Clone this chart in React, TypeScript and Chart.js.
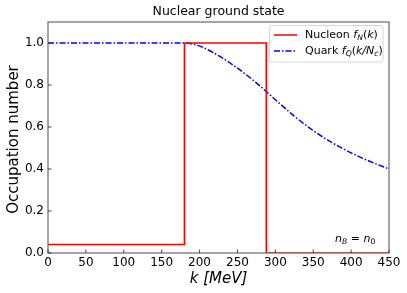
import React, { useEffect, useRef } from "react";
import { Chart, registerables } from "chart.js";

Chart.register(...registerables);

// Nucleon step distribution f_N(k)
const nucleonK = [0, 180, 180, 288, 288, 450];
const nucleonF = [0.04, 0.04, 1.0, 1.0, 0.0, 0.0];

// Quark distribution f_Q(k/N_c)
const quarkK = [0, 180, 200, 225, 250, 275, 300, 325, 350, 375, 400, 425, 450];
const quarkF = [1.0, 1.0, 0.985, 0.94, 0.88, 0.81, 0.73, 0.652, 0.583, 0.525, 0.477, 0.436, 0.4];

const xTicks = [0, 50, 100, 150, 200, 250, 300, 350, 400, 450];
const yTicks = [0.0, 0.2, 0.4, 0.6, 0.8, 1.0];

const TITLE = "Nuclear ground state";
const X_TITLE = "k [MeV]";
const Y_TITLE = "Occupation number";

const FONT = "'DejaVu Sans', sans-serif";

type Run = { t: string; it?: boolean; sub?: boolean };

function drawRuns(ctx: CanvasRenderingContext2D, runs: Run[], x: number, y: number, size: number) {
  let cx = x;
  for (const r of runs) {
    const fs = r.sub ? size * 0.7 : size;
    ctx.font = `${r.it ? "italic " : ""}${fs}px ${FONT}`;
    ctx.textBaseline = "middle";
    ctx.textAlign = "left";
    ctx.fillText(r.t, cx, r.sub ? y + size * 0.28 : y);
    cx += ctx.measureText(r.t).width;
  }
  return cx;
}

const decorPlugin = {
  id: "decor",
  afterDraw(chart: any) {
    const ctx: CanvasRenderingContext2D = chart.ctx;
    const a = chart.chartArea;
    const xs = chart.scales.x;
    const ys = chart.scales.y;
    ctx.save();
    // frame
    ctx.strokeStyle = "#6a6a6a";
    ctx.lineWidth = 1.2;
    ctx.strokeRect(a.left, a.top, a.right - a.left, a.bottom - a.top);
    // inward ticks
    ctx.strokeStyle = "#333";
    ctx.lineWidth = 0.9;
    ctx.beginPath();
    for (const v of xTicks) {
      const px = xs.getPixelForValue(v);
      ctx.moveTo(px, a.bottom);
      ctx.lineTo(px, a.bottom - 3.5);
    }
    for (const v of yTicks) {
      const py = ys.getPixelForValue(v);
      ctx.moveTo(a.left, py);
      ctx.lineTo(a.left + 3.5, py);
    }
    ctx.stroke();

    ctx.fillStyle = "#000";
    // title
    ctx.font = `12.5px ${FONT}`;
    ctx.textAlign = "center";
    ctx.textBaseline = "middle";
    ctx.fillText(TITLE, (a.left + a.right) / 2, 12);
    // x title
    ctx.font = `italic 15px ${FONT}`;
    ctx.fillText(X_TITLE, (a.left + a.right) / 2, 279);
    // y title
    ctx.save();
    ctx.translate(14, (a.top + a.bottom) / 2 + 2);
    ctx.rotate(-Math.PI / 2);
    ctx.font = `15px ${FONT}`;
    ctx.fillText(Y_TITLE, 0, 0);
    ctx.restore();

    // annotation n_B = n_0
    drawRuns(ctx, [{ t: "n", it: true }, { t: "B", it: true, sub: true }, { t: " = " }, { t: "n", it: true }, { t: "0", sub: true }], 335, 239, 11);

    // legend
    const lx = 269.5, ly = 25.5, lw = 113.5, lh = 36.5;
    ctx.beginPath();
    const r = 2.5;
    ctx.moveTo(lx + r, ly);
    ctx.lineTo(lx + lw - r, ly);
    ctx.quadraticCurveTo(lx + lw, ly, lx + lw, ly + r);
    ctx.lineTo(lx + lw, ly + lh - r);
    ctx.quadraticCurveTo(lx + lw, ly + lh, lx + lw - r, ly + lh);
    ctx.lineTo(lx + r, ly + lh);
    ctx.quadraticCurveTo(lx, ly + lh, lx, ly + lh - r);
    ctx.lineTo(lx, ly + r);
    ctx.quadraticCurveTo(lx, ly, lx + r, ly);
    ctx.closePath();
    ctx.fillStyle = "rgba(255,255,255,0.85)";
    ctx.fill();
    ctx.strokeStyle = "#d6d6d6";
    ctx.lineWidth = 1;
    ctx.stroke();

    const rows = [
      { color: "#ff0000", dash: [] as number[], y: 35, runs: [{ t: "Nucleon " }, { t: "f", it: true }, { t: "N", it: true, sub: true }, { t: "(" }, { t: "k", it: true }, { t: ")" }] as Run[] },
      { color: "#0000ff", dash: [6, 2, 1.5, 2], y: 51, runs: [{ t: "Quark " }, { t: "f", it: true }, { t: "Q", it: true, sub: true }, { t: "(" }, { t: "k/N", it: true }, { t: "c", it: true, sub: true }, { t: ")" }] as Run[] },
    ];
    for (const row of rows) {
      ctx.strokeStyle = row.color;
      ctx.lineWidth = 1.5;
      ctx.setLineDash(row.dash);
      ctx.beginPath();
      ctx.moveTo(274, row.y);
      ctx.lineTo(297, row.y);
      ctx.stroke();
      ctx.setLineDash([]);
      ctx.fillStyle = "#000";
      drawRuns(ctx, row.runs, 305, row.y, 11);
    }
    ctx.restore();
  },
};

export default function App() {
  const ref = useRef<HTMLCanvasElement | null>(null);
  useEffect(() => {
    if (!ref.current) return;
    const chart = new Chart(ref.current, {
      type: "line",
      data: {
        datasets: [
          {
            label: "Nucleon",
            data: nucleonK.map((k, i) => ({ x: k, y: nucleonF[i] })),
            borderColor: "#ff0000",
            borderWidth: 1.5,
            pointRadius: 0,
            fill: false,
            tension: 0,
          },
          {
            label: "Quark",
            data: quarkK.map((k, i) => ({ x: k, y: quarkF[i] })),
            borderColor: "#0000ff",
            borderWidth: 1.5,
            borderDash: [6, 2, 1.5, 2],
            pointRadius: 0,
            fill: false,
            cubicInterpolationMode: "monotone",
          },
        ],
      },
      options: {
        responsive: false,
        animation: false,
        events: [],
        layout: { padding: { left: 0, top: 22, right: 18, bottom: 0 } },
        plugins: { legend: { display: false }, title: { display: false }, tooltip: { enabled: false } },
        scales: {
          x: {
            type: "linear",
            min: 0,
            max: 450,
            grid: { display: false, drawTicks: false },
            border: { display: false },
            afterFit: (s: any) => { s.height = 40; },
            afterBuildTicks: (s: any) => { s.ticks = xTicks.map((v) => ({ value: v })); },
            ticks: { color: "#000", padding: 3, maxRotation: 0, autoSkip: false, font: { family: FONT, size: 12 }, callback: (v: any) => String(v) },
          },
          y: {
            type: "linear",
            min: 0,
            max: 1.1,
            grid: { display: false, drawTicks: false },
            border: { display: false },
            afterFit: (s: any) => { s.width = 48; },
            afterBuildTicks: (s: any) => { s.ticks = yTicks.map((v) => ({ value: v })); },
            ticks: { color: "#000", padding: 4, autoSkip: false, font: { family: FONT, size: 12 }, callback: (v: any) => Number(v).toFixed(1) },
          },
        },
      },
      plugins: [decorPlugin],
    } as any);
    return () => chart.destroy();
  }, []);
  return (
    <div style={{ position: "fixed", left: 0, top: 0, width: 407, height: 293, background: "#fff" }}>
      <canvas ref={ref} width={407} height={293} style={{ width: 407, height: 293, display: "block" }} />
    </div>
  );
}
